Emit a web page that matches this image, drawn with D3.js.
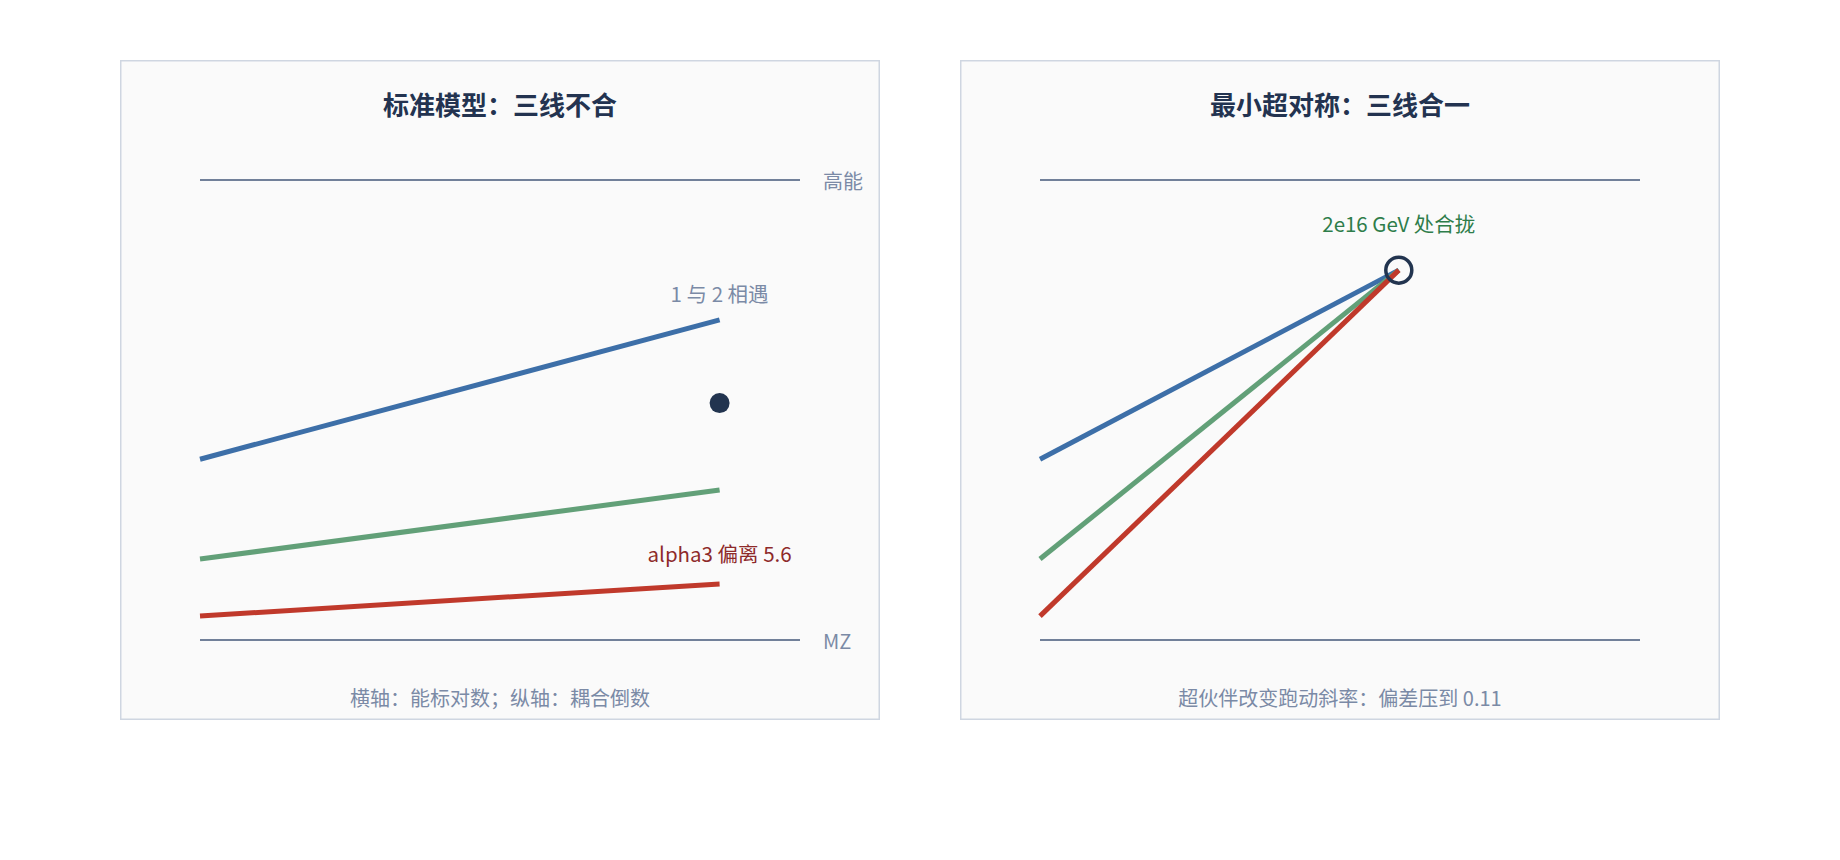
<!DOCTYPE html>
<html>
<head>
<meta charset="utf-8">
<script src="https://cdn.jsdelivr.net/npm/d3@7"></script>
<style>
  html, body { margin: 0; padding: 0; background: #ffffff; }
  svg { display: block; font-family: "Noto Sans CJK SC", "Noto Sans", sans-serif; }
</style>
</head>
<body>
<svg id="chart" width="1840" height="860"></svg>
<script>
// ---- data (normalised: x = log-energy position 0..100, y = inverse coupling 0..100) ----
const panelTitles = ["标准模型：三线不合", "最小超对称：三线合一"];
const panelNotes = ["横轴：能标对数；纵轴：耦合倒数", "超伙伴改变跑动斜率：偏差压到 0.11"];
const seriesNames = ["alpha1", "alpha2", "alpha3"];
const seriesColors = ["#3d6fa8", "#62a078", "#c0392b"];
const refLevels = [100, 0];            // 高能 / MZ reference lines
const refLabels = ["高能", "MZ"];
// Standard Model: start at MZ (x=0), end at x=86.6
const smX = [0, 86.6];
const smStart = [39.3, 17.6, 5.2];
const smEnd = [69.6, 32.6, 12.2];
const smDot = [86.6, 51.5];
const smNotes = ["1 与 2 相遇", "alpha3 偏离 5.6"];
// MSSM: all three meet at one point
const mssmX = [0, 59.8];
const mssmStart = [39.3, 17.6, 5.2];
const mssmEnd = [80.4, 80.4, 80.4];
const mssmNote = "2e16 GeV 处合拢";

const svg = d3.select("#chart");
const panelW = 760, panelH = 660, panelY = 60;
const panelXs = [120, 960];

function panel(i) {
  const g = svg.append("g").attr("transform", `translate(${panelXs[i]},${panelY})`);
  g.append("rect").attr("x", 0.75).attr("y", 0.75)
    .attr("width", panelW - 1.5).attr("height", panelH - 1.5)
    .attr("fill", "#fafafa").attr("stroke", "#cfd6e1").attr("stroke-width", 1.5);
  g.append("text").attr("x", panelW / 2).attr("y", 43)
    .attr("text-anchor", "middle").attr("dominant-baseline", "central")
    .attr("font-size", 26).attr("font-weight", "bold").attr("fill", "#233350")
    .text(panelTitles[i]);
  g.append("text").attr("x", panelW / 2).attr("y", 637)
    .attr("text-anchor", "middle").attr("dominant-baseline", "central")
    .attr("font-size", 20).attr("fill", "#7b8aa6")
    .text(panelNotes[i]);
  return g;
}

const x = d3.scaleLinear().domain([0, 100]).range([80, 680]);
const y = d3.scaleLinear().domain([0, 100]).range([580, 120]);

[0, 1].forEach(i => {
  const g = panel(i);
  // reference lines
  refLevels.forEach((lv, k) => {
    g.append("line").attr("x1", x(0)).attr("x2", x(100))
      .attr("y1", y(lv)).attr("y2", y(lv))
      .attr("stroke", "#718099").attr("stroke-width", 2);
    if (i === 0) {
      g.append("text").attr("x", x(100) + 23).attr("y", y(lv))
        .attr("dominant-baseline", "central").attr("font-size", 20)
        .attr("fill", "#7b8aa6").text(refLabels[k]);
    }
  });
  const xs = i === 0 ? smX : mssmX;
  const st = i === 0 ? smStart : mssmStart;
  const en = i === 0 ? smEnd : mssmEnd;
  const line = d3.line().x(d => x(d[0])).y(d => y(d[1]));
  seriesNames.forEach((name, s) => {
    g.append("path").datum([[xs[0], st[s]], [xs[1], en[s]]])
      .attr("d", line).attr("fill", "none")
      .attr("stroke", seriesColors[s]).attr("stroke-width", 5);
  });
  if (i === 0) {
    g.append("circle").attr("cx", x(smDot[0])).attr("cy", y(smDot[1])).attr("r", 10)
      .attr("fill", "#22344f");
    g.append("text").attr("x", x(smX[1])).attr("y", y(smEnd[0]) - 27)
      .attr("text-anchor", "middle").attr("dominant-baseline", "central")
      .attr("font-size", 20.5).attr("fill", "#7b8aa6").text(smNotes[0]);
    g.append("text").attr("x", x(smX[1])).attr("y", y(smEnd[2]) - 31)
      .attr("text-anchor", "middle").attr("dominant-baseline", "central")
      .attr("font-size", 20.5).attr("fill", "#8e2a2a").text(smNotes[1]);
  } else {
    g.append("circle").attr("cx", x(mssmX[1])).attr("cy", y(mssmEnd[0])).attr("r", 13)
      .attr("fill", "none").attr("stroke", "#22344f").attr("stroke-width", 3.5);
    g.append("text").attr("x", x(mssmX[1])).attr("y", y(mssmEnd[0]) - 47)
      .attr("text-anchor", "middle").attr("dominant-baseline", "central")
      .attr("font-size", 20.5).attr("fill", "#2e7d4a").text(mssmNote);
  }
});
</script>
</body>
</html>
